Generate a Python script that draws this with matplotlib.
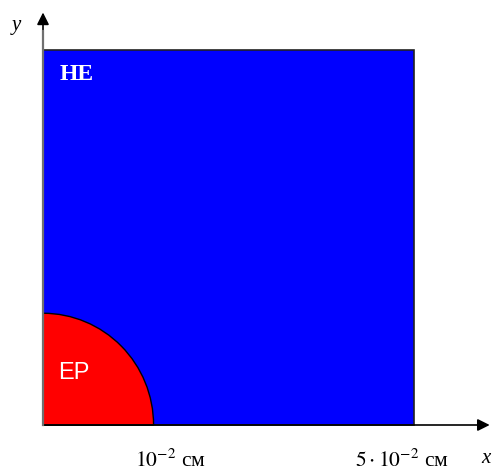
import matplotlib.pyplot as plt
from matplotlib.patches import Rectangle, Wedge

plt.rcParams['mathtext.fontset'] = 'stix'

# размеры в единицах 10^-2 см
square_side = 5.0
drop_radius = 1.49
tick_labels = [r'$10^{-2}$ см', r'$5\cdot10^{-2}$ см']
label_x = [1.72, 4.84]

ux, uy = 74.2, 75.0  # пикселей на единицу
fig = plt.figure(figsize=(4.92, 4.70), dpi=100)
ax = fig.add_axes([0, 0, 1, 1])
ax.set_xlim(-43 / ux, (492 - 43) / ux)
ax.set_ylim(-(470 - 425) / uy, 425 / uy)
ax.axis('off')

# область НЕ
ax.add_patch(Rectangle((0, 0), square_side, square_side, facecolor='#0000ff',
                       edgecolor='#222222', linewidth=1.2, zorder=1))
# область EP
ax.add_patch(Wedge((0, 0), drop_radius, 0, 90, facecolor='#ff0000',
                   edgecolor='black', linewidth=1.0, zorder=2))

# оси со стрелками
ax.annotate('', xy=(6.02, 0), xytext=(0, 0),
            arrowprops=dict(arrowstyle='-|>', color='black', lw=1.2,
                            mutation_scale=18, shrinkA=0, shrinkB=0), zorder=3)
ax.annotate('', xy=(0, 5.5), xytext=(0, 0),
            arrowprops=dict(arrowstyle='-|>', color='black', lw=1.2,
                            mutation_scale=18, shrinkA=0, shrinkB=0), zorder=3)
ax.plot([0, 0], [0, 5.25], color='#707070', lw=1.6, zorder=3)

ax.text(-0.36, 5.33, 'y', fontsize=15, style='italic', family='Liberation Serif',
        ha='center', va='center')
ax.text(5.97, -0.45, 'x', fontsize=15, style='italic', family='Liberation Serif',
        ha='center', va='center')

ax.text(0.22, 4.67, 'НЕ', fontsize=17, color='white', family=['Liberation Serif'],
        fontweight='bold', ha='left', va='center')
ax.text(0.2, 0.69, 'EP', fontsize=17, color='white', family='Liberation Sans',
        ha='left', va='center')

for xv, lab in zip(label_x, tick_labels):
    ax.text(xv, -0.47, lab, fontsize=15.5, family='Liberation Serif',
            ha='center', va='center')

fig.savefig('out.png', dpi=100)
